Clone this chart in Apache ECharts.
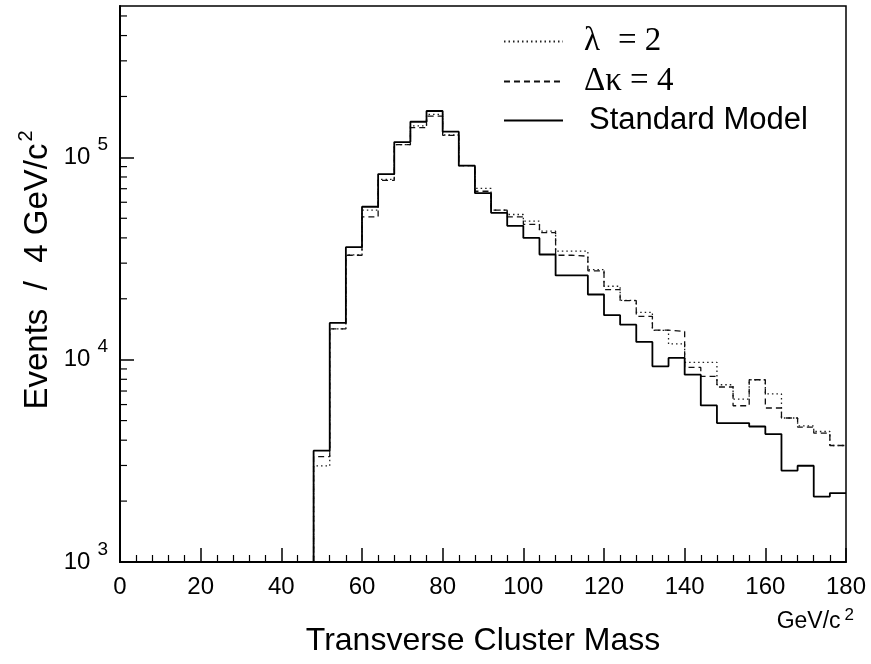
<!DOCTYPE html>
<html><head><meta charset="utf-8">
<script src="https://cdn.jsdelivr.net/npm/echarts@6/dist/echarts.min.js"></script>
<style>html,body{margin:0;padding:0;background:#fff}#c{width:871px;height:664px}</style>
</head><body><div id="c"></div>
<script>
// Bin left edges (GeV/c^2), 4 GeV/c^2 wide
const binEdges = [48,52,56,60,64,68,72,76,80,84,88,92,96,100,104,108,112,116,120,124,128,132,136,140,144,148,152,156,160,164,168,172,176];
const binWidth = 4;
// Standard Model (solid)
const smValues = [3550,15200,36000,57000,82700,119000,150000,169500,134000,91000,66500,53200,45900,40000,33100,26100,26100,21000,16600,14900,12240,9270,10200,8430,5940,4860,4860,4675,4290,2830,2990,2105,2190];
// lambda = 2 (dotted)
const lambdaValues = [2985,14190,33000,54800,77800,115600,143000,163000,129000,91000,70300,54800,52200,48400,43180,34380,34380,27900,23060,19660,17150,13960,11960,9700,9700,7520,6390,7960,6770,5150,4712,4416,3765];
// Delta kappa = 4 (dashed)
const dkappaValues = [3320,14190,32820,50850,76900,115600,140300,160000,128500,91000,68000,54800,50800,46600,42500,32830,32460,27500,22200,19600,16380,14000,13800,9160,8270,7330,5920,7960,5770,5150,4645,4336,3765];
// Axes
const xMin = 0, xMax = 180, xStep = 20;
const yMin = 1000, yMax = 560000;
const yMinorTickValues = [2000,3000,4000,5000,6000,7000,8000,9000,20000,30000,40000,50000,60000,70000,80000,90000,200000,300000,400000,500000];
const seriesNames = ['λ = 2', 'Δκ = 4', 'Standard Model'];

function histo(values) {
  const pts = [[binEdges[0], yMin]];
  binEdges.forEach((e, i) => pts.push([e, values[i]]));
  pts.push([binEdges[binEdges.length - 1] + binWidth, values[values.length - 1]]);
  return pts;
}

const SANS = 'Liberation Sans, Arial, Helvetica, sans-serif';
const SERIF = 'Liberation Serif, Times New Roman, serif';

const chart = echarts.init(document.getElementById('c'), null, {renderer: 'canvas'});

const legendText = {
  'λ = 2': '{g|λ}{g2|= 2}',
  'Δκ = 4': '{g|Δκ = 4}',
  'Standard Model': '{s|Standard Model}'
};

chart.setOption({
  animation: false,
  backgroundColor: '#fff',
  grid: {left: 120, right: 25, top: 6, bottom: 102, show: true, borderColor: '#000', borderWidth: 1.5, backgroundColor: 'transparent'},
  legend: {
    data: seriesNames,
    orient: 'vertical',
    left: 503, top: 25,
    padding: 0,
    itemWidth: 59, itemHeight: 14, itemGap: 7,
    align: 'left',
    selectedMode: false,
    itemStyle: {opacity: 0},
    formatter: n => legendText[n],
    textStyle: {
      color: '#000',
      rich: {
        g: {fontFamily: SERIF, fontSize: 33, color: '#000', lineHeight: 32, padding: [0, 0, 0, 16]},
        g2: {fontFamily: SERIF, fontSize: 33, color: '#000', lineHeight: 32, padding: [0, 0, 0, 18]},
        s: {fontFamily: SANS, fontSize: 31, color: '#000', lineHeight: 32, padding: [0, 0, 0, 21]}
      }
    }
  },
  xAxis: {
    type: 'value', min: xMin, max: xMax, interval: xStep,
    axisLine: {lineStyle: {color: '#000', width: 2}},
    axisTick: {inside: true, length: 14, lineStyle: {color: '#000', width: 1.5}},
    minorTick: {show: true, splitNumber: 5, length: 7, lineStyle: {color: '#000', width: 1.2}},
    splitLine: {show: false},
    axisLabel: {color: '#000', fontSize: 24, fontFamily: SANS, margin: 13},
    name: 'Transverse Cluster Mass',
    nameLocation: 'middle', nameGap: 63,
    nameTextStyle: {color: '#000', fontSize: 32, fontFamily: SANS}
  },
  yAxis: {
    type: 'log', logBase: 10, min: yMin, max: yMax,
    axisLine: {lineStyle: {color: '#000', width: 2}},
    axisTick: {inside: true, length: 14, lineStyle: {color: '#000', width: 1.5}},
    splitLine: {show: false},
    axisLabel: {
      margin: 12,
      showMaxLabel: false,
      formatter: v => {
        const e = Math.log10(v);
        if (Math.abs(e - Math.round(e)) > 1e-6) return '';
        return '{b|10}{s|' + Math.round(e) + '}';
      },
      rich: {
        b: {fontSize: 24, fontFamily: SANS, color: '#000', lineHeight: 44},
        s: {fontSize: 19, fontFamily: SANS, color: '#000', lineHeight: 19, verticalAlign: 'top', padding: [0, 0, 0, 7]}
      }
    }
  },
  graphic: [
    {type: 'text', x: 854, y: 622, style: {text: '{a|GeV/c}{s|2}', align: 'right', verticalAlign: 'middle',
      rich: {a: {fontSize: 23, fontFamily: SANS, fill: '#000', lineHeight: 30},
             s: {fontSize: 17, fontFamily: SANS, fill: '#000', verticalAlign: 'top', lineHeight: 17, padding: [0, 0, 0, 4]}}}},
    {type: 'text', x: 38, y: 270, rotation: Math.PI / 2, style: {text: '{a|Events  /  4 GeV/c}{s|2}', align: 'center', verticalAlign: 'middle',
      rich: {a: {fontSize: 33, fontFamily: SANS, fill: '#000', lineHeight: 44},
             s: {fontSize: 20, fontFamily: SANS, fill: '#000', verticalAlign: 'top', lineHeight: 20, padding: [0, 0, 0, 2]}}}}
  ],
  series: [
    {name: seriesNames[0], type: 'line', step: 'end', symbol: 'none', data: histo(lambdaValues),
     lineStyle: {color: '#222', width: 1.3, type: [1.5, 3]}, itemStyle: {color: '#222'}, z: 3},
    {name: seriesNames[1], type: 'line', step: 'end', symbol: 'none', data: histo(dkappaValues),
     lineStyle: {color: '#111', width: 1.3, type: [6, 4]}, itemStyle: {color: '#111'}, z: 4},
    {name: seriesNames[2], type: 'line', step: 'end', symbol: 'none', data: histo(smValues),
     lineStyle: {color: '#000', width: 1.8, type: 'solid'}, itemStyle: {color: '#000'}, z: 5},
    {type: 'custom', silent: true, clip: false, data: yMinorTickValues.map(v => [xMin, v]),
     encode: {x: 0, y: 1},
     renderItem: (params, api) => {
       const p = api.coord([api.value(0), api.value(1)]);
       return {type: 'line', shape: {x1: p[0], y1: p[1], x2: p[0] + 7, y2: p[1]}, style: {stroke: '#000', lineWidth: 1.2}};
     }}
  ]
});
</script></body></html>
